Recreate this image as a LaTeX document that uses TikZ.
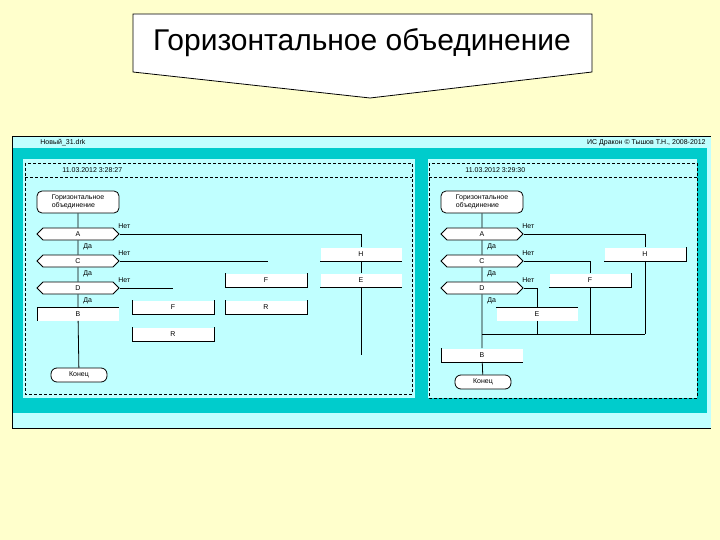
\documentclass[tikz,border=0pt]{standalone}
\usepackage{fontspec}
\setmainfont{Liberation Sans}
\usetikzlibrary{shapes.symbols}
\definecolor{slidebg}{RGB}{255,255,204}
\definecolor{panelbg}{RGB}{192,255,255}
\definecolor{framebg}{RGB}{0,204,204}

\begin{document}
\begin{tikzpicture}[
  x=1pt,
  y=-1pt,
  line width=0.8pt,
  small/.style={
    font=\fontsize{7}{8}\selectfont,
    inner sep=0pt
  },
  header/.style={
    draw,
    rounded corners=5pt,
    fill=white,
    align=left,
    minimum width=82pt,
    minimum height=22pt,
    font=\fontsize{7}{8.5}\selectfont
  },
  question/.style={
    draw,
    signal,
    signal to=west and east,
    fill=white,
    inner sep=0pt,
    minimum width=82pt,
    minimum height=12pt,
    font=\fontsize{7}{8}\selectfont
  },
  action/.style={
    fill=white,
    inner sep=0pt,
    minimum width=81pt,
    minimum height=13pt,
    font=\fontsize{7}{8}\selectfont
  },
  finish/.style={
    draw,
    rounded corners=6pt,
    fill=white,
    minimum width=56pt,
    minimum height=14pt,
    font=\fontsize{7}{8}\selectfont
  },
  frame/.style={densely dashed, line width=0.6pt}
]
\useasboundingbox (0,0) rectangle (720,540);
\fill[slidebg] (0,0) rectangle (720,540);

\draw[fill=white] (133,14) -- (592,14) -- (592,72) -- (370,98) -- (133,72) -- cycle;
\node[font=\fontsize{30}{35}\selectfont] (title) at (362,43) {Горизонтальное объединение};

\fill[panelbg] (12,136) rectangle (711,428);
\fill[framebg] (12,148) rectangle (707,413);
\fill[panelbg] (23,159) rectangle (415,398);
\fill[panelbg] (428,159) rectangle (697,398);
\draw (12,428) -- (12,136) -- (711,136);
\draw (12,428) -- (711,428);
\node[small, anchor=west] (file) at (40,143) {Новый\_31.drk};
\node[small, anchor=east] (copy) at (706,143) {ИС Дракон © Тышов Т.Н., 2008-2012};

\draw[frame] (25,163) rectangle (412,394);
\draw[frame] (25,177) -- (412,177);
\draw[frame] (429,163) rectangle (697,398);
\draw[frame] (429,177) -- (697,177);
\node[small, anchor=west] (date1) at (62,170) {11.03.2012 3:28:27};
\node[small, anchor=west] (date2) at (465,170) {11.03.2012 3:29:30};

\node[header] (ttl1) at (78,202) {Горизонтальное\\объединение};
\node[question] (qA1) at (78,234) {A};
\node[question] (qC1) at (78,261) {C};
\node[question] (qD1) at (78,288) {D};
\node[action] (B1) at (78,314) {B};
\node[finish] (end1) at (79,375) {Конец};
\node[action] (H1) at (361,254) {H};
\node[action] (E1) at (361,280) {E};
\node[action] (F1) at (266,280) {F};
\node[action] (F2) at (173,307) {F};
\node[action] (R1) at (266,307) {R};
\node[action] (R2) at (173,334) {R};
\coordinate (c1) at (268,261);
\coordinate (d1) at (173,288);
\coordinate (e1) at (361,355);

\node[small, anchor=west] (noA1) at (118,226) {Нет};
\node[small, anchor=west] (noC1) at (118,253) {Нет};
\node[small, anchor=west] (noD1) at (118,280) {Нет};
\node[small, anchor=west] (yesA1) at (83,247) {Да};
\node[small, anchor=west] (yesC1) at (83,274) {Да};
\node[small, anchor=west] (yesD1) at (83,301) {Да};

\draw (ttl1) -- (qA1) -- (qC1) -- (qD1) -- (B1) -- (end1);
\draw (qA1.east) -| (H1.north);
\draw (H1) -- (E1) -- (e1);
\draw (qC1.east) -- (c1);
\draw (qD1.east) -- (d1);
\draw (B1.south west) |- (B1.north east);
\draw (H1.south west) -- (H1.south east);
\draw (E1.south west) -- (E1.south east);
\draw (F1.north west) |- (F1.south east) -- (F1.north east);
\draw (F2.north west) |- (F2.south east) -- (F2.north east);
\draw (R1.north west) |- (R1.south east) -- (R1.north east);
\draw (R2.north west) |- (R2.south east) -- (R2.north east);

\node[header] (ttl2) at (482,202) {Горизонтальное\\объединение};
\node[question] (qA2) at (482,234) {A};
\node[question] (qC2) at (482,261) {C};
\node[question] (qD2) at (482,288) {D};
\node[action] (H2) at (645,254) {H};
\node[action] (F3) at (590,280) {F};
\node[action] (E2) at (537,314) {E};
\node[action] (B2) at (482,355) {B};
\node[finish] (end2) at (483,382) {Конец};
\coordinate (m0) at (482,334);
\coordinate (m1) at (537,334);
\coordinate (m2) at (590,334);
\coordinate (m3) at (645,334);

\node[small, anchor=west] (noA2) at (522,226) {Нет};
\node[small, anchor=west] (noC2) at (522,253) {Нет};
\node[small, anchor=west] (noD2) at (522,280) {Нет};
\node[small, anchor=west] (yesA2) at (487,247) {Да};
\node[small, anchor=west] (yesC2) at (487,274) {Да};
\node[small, anchor=west] (yesD2) at (487,301) {Да};

\draw (ttl2) -- (qA2) -- (qC2) -- (qD2) -- (m0) -- (B2) -- (end2);
\draw (qA2.east) -| (H2.north);
\draw (H2) -- (m3);
\draw (qC2.east) -| (F3.north);
\draw (F3) -- (m2);
\draw (qD2.east) -| (E2.north);
\draw (E2) -- (m1);
\draw (m0) -- (m3);
\draw (H2.south west) -| (H2.north east);
\draw (F3.south west) -| (F3.north east);
\draw (E2.north west) -- (E2.north east);
\draw (B2.north west) |- (B2.south east);

\end{tikzpicture}
\end{document}
